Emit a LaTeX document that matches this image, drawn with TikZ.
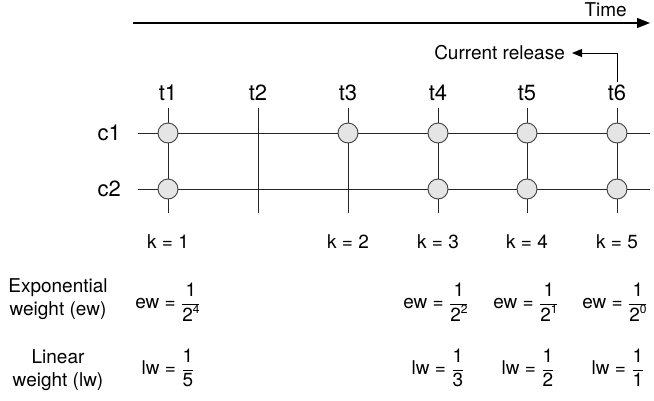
\documentclass[tikz,border=0pt]{standalone}
\usepackage{fontspec}
\setmainfont{TeX Gyre Heros}
\usetikzlibrary{arrows.meta}

\newcommand{\wfrac}[2]{$\displaystyle\frac{\mbox{#1}}{\mbox{#2}}$}
\newcommand{\pw}[1]{\raisebox{7.5pt}{\fontsize{12}{12}\selectfont #1}}

\begin{document}
\begin{tikzpicture}[x=1pt, y=-1pt,
        font=\fontsize{19}{23}\selectfont,
        event/.style={circle, draw=black!75, fill=black!10, line width=0.9pt, minimum size=20pt, inner sep=0pt},
        tlabel/.style={font=\fontsize{22}{25}\selectfont},
        grid/.style={black!85, line width=0.8pt},
        arrow/.style={-{Triangle[length=13pt, width=10pt]}, line width=1.3pt}
    ]
        \useasboundingbox (0,0) rectangle (654,400);

        % Time axis
        \coordinate (tstart) at (133,23);
        \coordinate (tend) at (650,23);
        \draw[arrow] (tstart) -- (tend);
        \node[anchor=east, inner sep=0pt] (time) at (627,10) {Time};

        % Releases and components
        \node[tlabel] (t1) at (168,93) {t1};
        \node[tlabel] (t2) at (258,93) {t2};
        \node[tlabel] (t3) at (348,93) {t3};
        \node[tlabel] (t4) at (438,93) {t4};
        \node[tlabel] (t5) at (527,93) {t5};
        \node[tlabel] (t6) at (617,93) {t6};
        \node[tlabel, anchor=east, inner sep=0pt] (c1) at (121,133) {c1};
        \node[tlabel, anchor=east, inner sep=0pt] (c2) at (121,189) {c2};

        \node[anchor=east, inner sep=0pt] (rel) at (565,53) {Current release};
        \draw[-{Triangle[length=10pt, width=8pt]}, line width=1pt, shorten >=7pt] (t6.north) |- (rel.east);

        \draw[grid] (138,133) -- (650,133);
        \draw[grid] (138,189) -- (650,189);
        \draw[grid] (168,108) -- (168,213);
        \draw[grid] (258,108) -- (258,213);
        \draw[grid] (348,108) -- (348,213);
        \draw[grid] (438,108) -- (438,213);
        \draw[grid] (527,108) -- (527,213);
        \draw[grid] (617,108) -- (617,213);

        % Changes
        \node[event] (e11) at (168,133) {};
        \node[event] (e13) at (348,133) {};
        \node[event] (e14) at (438,133) {};
        \node[event] (e15) at (527,133) {};
        \node[event] (e16) at (617,133) {};
        \node[event] (e21) at (168,189) {};
        \node[event] (e24) at (438,189) {};
        \node[event] (e25) at (527,189) {};
        \node[event] (e26) at (617,189) {};

        \node (k1) at (168,242) {k = 1};
        \node (k2) at (348,242) {k = 2};
        \node (k3) at (438,242) {k = 3};
        \node (k4) at (527,242) {k = 4};
        \node (k5) at (617,242) {k = 5};

        % Weights
        \node[align=center] (expo) at (58,299) {Exponential\\weight (ew)};
        \node (ew1) at (168,302) {ew = \wfrac{1}{2\pw{4}}};
        \node (ew3) at (436,302) {ew = \wfrac{1}{2\pw{2}}};
        \node (ew4) at (526,302) {ew = \wfrac{1}{2\pw{1}}};
        \node (ew5) at (615,302) {ew = \wfrac{1}{2\pw{0}}};

        \node[align=center] (lin) at (58,370) {Linear\\weight (lw)};
        \node (lw1) at (168,368) {lw = \wfrac{1}{5}};
        \node (lw3) at (438,368) {lw = \wfrac{1}{3}};
        \node (lw4) at (528,368) {lw = \wfrac{1}{2}};
        \node (lw5) at (618,368) {lw = \wfrac{1}{1}};
    \end{tikzpicture}
\end{document}
